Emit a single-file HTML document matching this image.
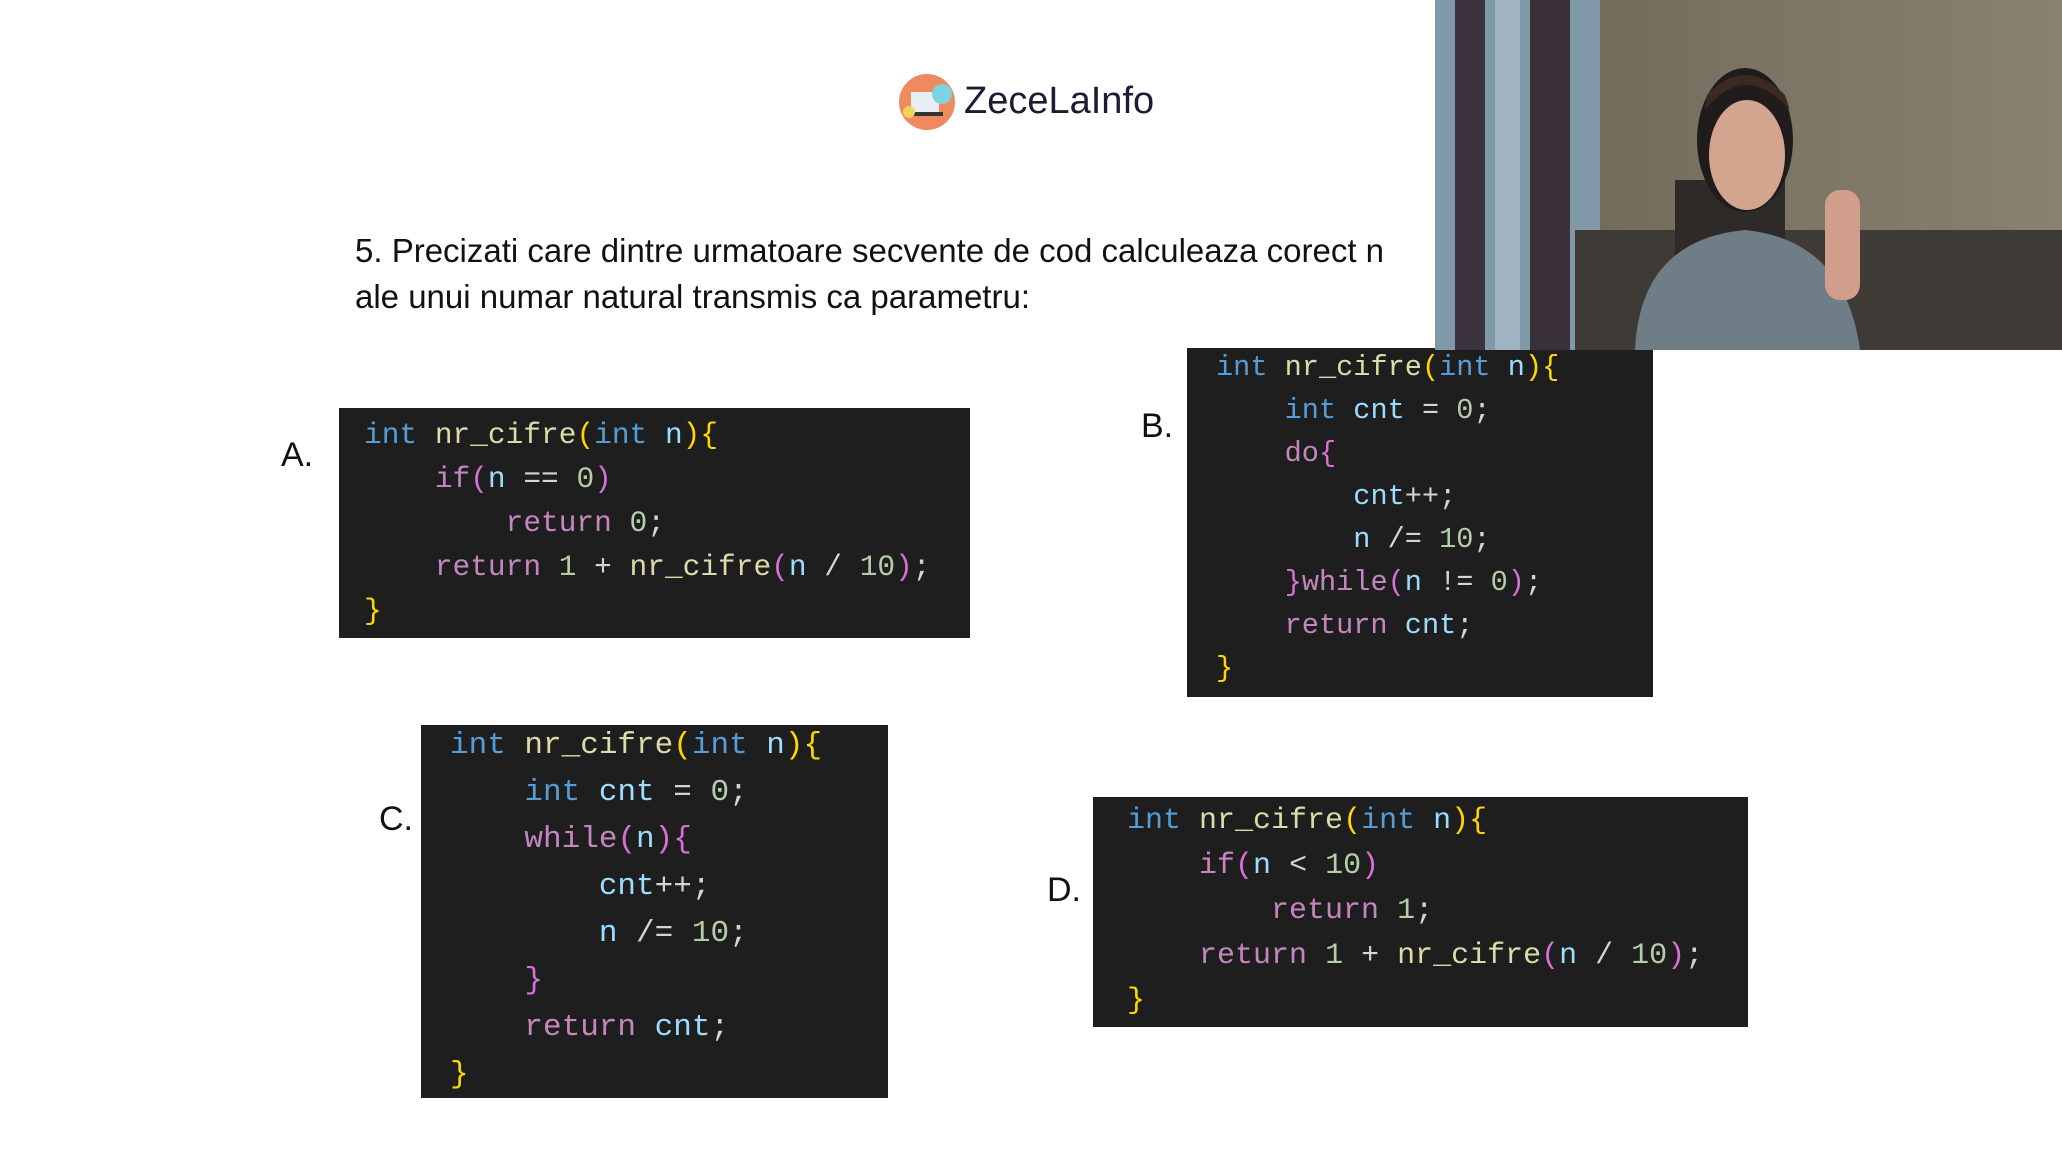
<!DOCTYPE html>
<html><head><meta charset="utf-8"><style>
body{margin:0;width:2062px;height:1157px;background:#fff;position:relative;overflow:hidden;font-family:"Liberation Sans",sans-serif}
.abs{position:absolute}
.code{position:absolute;background:#1e1e1e;}
.code pre{margin:0;font-family:"Liberation Mono",monospace;color:#d4d4d4;white-space:pre;position:absolute}
.k{color:#569cd6}.f{color:#dcdcaa}.p{color:#ffd700}.m{color:#c586c0}.v{color:#9cdcfe}.n{color:#b5cea8}.q{color:#da70d6}
.lbl{position:absolute;font-size:34px;color:#111}
.q5{position:absolute;left:355px;font-size:33px;color:#111;white-space:nowrap}
.g{position:absolute;width:1px;background:#444}
</style></head><body>
<svg class="abs" style="left:897px;top:72px" width="64" height="62">
<circle cx="30" cy="30" r="28" fill="#ef8a5f"/>
<rect x="14" y="20" width="28" height="20" fill="#e8eef2"/>
<rect x="10" y="40" width="36" height="4" fill="#333"/>
<circle cx="45" cy="22" r="10" fill="#7dd3e0"/>
<circle cx="12" cy="40" r="6" fill="#f2d35a"/>
</svg>
<div class="abs" style="left:964px;top:80px;font-size:38px;color:#1c1c33">ZeceLaInfo</div>
<div class="q5" style="top:232px">5. Precizati care dintre urmatoare secvente de cod calculeaza corect n</div>
<div class="q5" style="top:278px">ale unui numar natural transmis ca parametru:</div>

<div class="lbl" style="left:281px;top:436px">A.</div>
<div class="code" style="left:339px;top:408px;width:631px;height:230px">
<pre style="left:25px;top:5px;font-size:29.5px;line-height:44px"><span class="k">int</span> <span class="f">nr_cifre</span><span class="p">(</span><span class="k">int</span> <span class="v">n</span><span class="p">){</span>
    <span class="m">if</span><span class="q">(</span><span class="v">n</span> == <span class="n">0</span><span class="q">)</span>
        <span class="m">return</span> <span class="n">0</span>;
    <span class="m">return</span> <span class="n">1</span> + <span class="f">nr_cifre</span><span class="q">(</span><span class="v">n</span> / <span class="n">10</span><span class="q">)</span>;
<span class="p">}</span></pre>
</div>

<div class="lbl" style="left:1141px;top:407px">B.</div>
<div class="code" style="left:1187px;top:348px;width:466px;height:349px">
<pre style="left:29px;top:-2px;font-size:28.6px;line-height:43px"><span class="k">int</span> <span class="f">nr_cifre</span><span class="p">(</span><span class="k">int</span> <span class="v">n</span><span class="p">){</span>
    <span class="k">int</span> <span class="v">cnt</span> = <span class="n">0</span>;
    <span class="m">do</span><span class="q">{</span>
        <span class="v">cnt</span>++;
        <span class="v">n</span> /= <span class="n">10</span>;
    <span class="q">}</span><span class="m">while</span><span class="q">(</span><span class="v">n</span> != <span class="n">0</span><span class="q">)</span>;
    <span class="m">return</span> <span class="v">cnt</span>;
<span class="p">}</span></pre>
</div>

<div class="lbl" style="left:379px;top:800px">C.</div>
<div class="code" style="left:421px;top:725px;width:467px;height:373px">
<pre style="left:29px;top:-3px;font-size:31px;line-height:47px"><span class="k">int</span> <span class="f">nr_cifre</span><span class="p">(</span><span class="k">int</span> <span class="v">n</span><span class="p">){</span>
    <span class="k">int</span> <span class="v">cnt</span> = <span class="n">0</span>;
    <span class="m">while</span><span class="q">(</span><span class="v">n</span><span class="q">){</span>
        <span class="v">cnt</span>++;
        <span class="v">n</span> /= <span class="n">10</span>;
    <span class="q">}</span>
    <span class="m">return</span> <span class="v">cnt</span>;
<span class="p">}</span></pre>
</div>

<div class="lbl" style="left:1047px;top:871px">D.</div>
<div class="code" style="left:1093px;top:797px;width:655px;height:230px">
<pre style="left:34px;top:2px;font-size:30px;line-height:45px"><span class="k">int</span> <span class="f">nr_cifre</span><span class="p">(</span><span class="k">int</span> <span class="v">n</span><span class="p">){</span>
    <span class="m">if</span><span class="q">(</span><span class="v">n</span> &lt; <span class="n">10</span><span class="q">)</span>
        <span class="m">return</span> <span class="n">1</span>;
    <span class="m">return</span> <span class="n">1</span> + <span class="f">nr_cifre</span><span class="q">(</span><span class="v">n</span> / <span class="n">10</span><span class="q">)</span>;
<span class="p">}</span></pre>
</div>

<svg class="abs" style="left:1435px;top:0" width="627" height="350">
<defs>
<linearGradient id="wall" x1="0" y1="0" x2="1" y2="0"><stop offset="0" stop-color="#6b6456"/><stop offset="1" stop-color="#8a8270"/></linearGradient>
</defs>
<rect width="627" height="350" fill="url(#wall)"/>
<rect x="0" y="0" width="165" height="350" fill="#7f99a8"/>
<rect x="20" y="0" width="30" height="350" fill="#3d3340"/>
<rect x="95" y="0" width="40" height="350" fill="#3a3038"/>
<rect x="60" y="0" width="25" height="350" fill="#9fb4c0"/>
<rect x="140" y="230" width="487" height="120" fill="#3e3b37"/>
<rect x="240" y="180" width="110" height="170" fill="#2e2a28"/>
<ellipse cx="310" cy="140" rx="48" ry="72" fill="#1f1c1b"/>
<ellipse cx="312" cy="155" rx="38" ry="55" fill="#d3a58e"/>
<path d="M270 110 Q310 60 355 110 L350 95 Q310 55 272 95Z" fill="#3a2a22"/>
<path d="M200 350 Q205 240 310 230 Q410 240 425 350Z" fill="#6f7d86"/>
<rect x="390" y="190" width="35" height="110" rx="15" fill="#d09e8a"/>
</svg>
</body></html>
